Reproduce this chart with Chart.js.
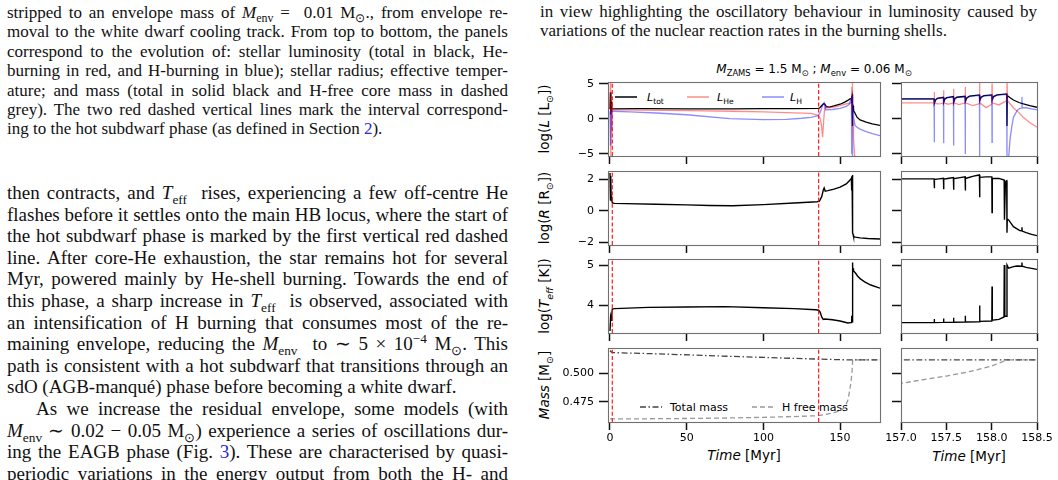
<!DOCTYPE html>
<html>
<head>
<meta charset="utf-8">
<script src="https://cdn.jsdelivr.net/npm/chart.js@4.4.1/dist/chart.umd.min.js"></script>
<style>
html, body { margin: 0; padding: 0; background: #fff; }
body { width: 1058px; height: 480px; position: relative; overflow: hidden; }
.col { position: absolute; font-family: "Liberation Serif", "Times New Roman", serif; color: #111; }
.cap { font-size: 17px; line-height: 19.4px; }
.txt { font-size: 19px; line-height: 21.6px; }
.ln { white-space: nowrap; text-align: justify; text-align-last: justify; }
.ln.last { text-align: left; text-align-last: left; }
.col sub, .col sup { font-size: 70%; line-height: 0; }
.lk { color: #2a2ad0; }
.fig { position: absolute; font-family: "DejaVu Sans", sans-serif; color: #000; white-space: nowrap; line-height: 1; }
.fig sub { font-size: 70%; line-height: 0; }
.ylab { font-size: 13.5px; transform: translate(-50%, -50%) rotate(-90deg); }
.xlab { font-size: 13.5px; transform: translate(-50%, -50%); }
.lg { font-size: 11px; transform: translateY(-50%); }
.lgs { position: absolute; }
canvas { position: absolute; }
</style>
</head>
<body>

<div class="col cap" style="left:7px; top:3px; width:501px;">
  <div class="ln">stripped to an envelope mass of <i>M</i><sub>env</sub> =&nbsp; 0.01 M<sub>⊙</sub>., from envelope re-</div>
  <div class="ln">moval to the white dwarf cooling track. From top to bottom, the panels</div>
  <div class="ln">correspond to the evolution of: stellar luminosity (total in black, He-</div>
  <div class="ln">burning in red, and H-burning in blue); stellar radius; effective temper-</div>
  <div class="ln">ature; and mass (total in solid black and H-free core mass in dashed</div>
  <div class="ln">grey). The two red dashed vertical lines mark the interval correspond-</div>
  <div class="ln last">ing to the hot subdwarf phase (as defined in Section <span class="lk">2</span>).</div>
</div>

<div class="col txt" style="left:7px; top:182px; width:501px;">
  <div class="ln">then contracts, and <i>T</i><sub>eff</sub>&nbsp; rises, experiencing a few off-centre He</div>
  <div class="ln">flashes before it settles onto the main HB locus, where the start of</div>
  <div class="ln">the hot subdwarf phase is marked by the first vertical red dashed</div>
  <div class="ln">line. After core-He exhaustion, the star remains hot for several</div>
  <div class="ln">Myr, powered mainly by He-shell burning. Towards the end of</div>
  <div class="ln">this phase, a sharp increase in <i>T</i><sub>eff</sub>&nbsp; is observed, associated with</div>
  <div class="ln">an intensification of H burning that consumes most of the re-</div>
  <div class="ln">maining envelope, reducing the <i>M</i><sub>env</sub>&nbsp; to ∼ 5 × 10<sup>−4</sup> M<sub>⊙</sub>. This</div>
  <div class="ln">path is consistent with a hot subdwarf that transitions through an</div>
  <div class="ln last">sdO (AGB-manqué) phase before becoming a white dwarf.</div>
  <div class="ln" style="text-indent:29px;">As we increase the residual envelope, some models (with</div>
  <div class="ln"><i>M</i><sub>env</sub> ∼ 0.02 − 0.05 M<sub>⊙</sub>) experience a series of oscillations dur-</div>
  <div class="ln">ing the EAGB phase (Fig. <span class="lk">3</span>). These are characterised by quasi-</div>
  <div class="ln">periodic variations in the energy output from both the H- and</div>
</div>

<div class="col cap" style="left:540px; top:2px; width:497px;">
  <div class="ln">in view highlighting the oscillatory behaviour in luminosity caused by</div>
  <div class="ln last">variations of the nuclear reaction rates in the burning shells.</div>
</div>

<div class="fig" style="left:814px; top:69px; font-size:12px; transform:translate(-50%,-50%);"><i>M</i><sub>ZAMS</sub> = 1.5 M<sub>⊙</sub> ; <i>M</i><sub>env</sub> = 0.06 M<sub>⊙</sub></div>

<div class="fig ylab" style="left:545px; top:119px;">log(<i>L</i> [L<sub>⊙</sub>])</div>
<div class="fig ylab" style="left:545px; top:208px;">log(<i>R</i> [R<sub>⊙</sub>])</div>
<div class="fig ylab" style="left:545px; top:296px;">log(<i>T</i><sub><i>eff</i></sub> [K])</div>
<div class="fig ylab" style="left:545px; top:385px;"><i>Mass</i> [M<sub>⊙</sub>]</div>
<div class="fig xlab" style="left:744px; top:456px;"><i>Time</i> [Myr]</div>
<div class="fig xlab" style="left:969px; top:457px;"><i>Time</i> [Myr]</div>

<svg class="lgs" style="left:615px; top:94px;" width="22" height="6"><line x1="0" y1="3" x2="22" y2="3" stroke="#000" stroke-width="1.5"/></svg>
<div class="fig lg" style="left:647px; top:97px;"><i>L</i><sub>tot</sub></div>
<svg class="lgs" style="left:687px; top:94px;" width="22" height="6"><line x1="0" y1="3" x2="22" y2="3" stroke="rgba(255,0,0,0.45)" stroke-width="1.5"/></svg>
<div class="fig lg" style="left:717px; top:97px;"><i>L</i><sub>He</sub></div>
<svg class="lgs" style="left:762px; top:94px;" width="22" height="6"><line x1="0" y1="3" x2="22" y2="3" stroke="rgba(0,0,255,0.45)" stroke-width="1.5"/></svg>
<div class="fig lg" style="left:790px; top:97px;"><i>L</i><sub>H</sub></div>

<svg class="lgs" style="left:640px; top:404px;" width="22" height="6"><line x1="0" y1="3" x2="22" y2="3" stroke="#444" stroke-width="1.4" stroke-dasharray="6 2.5 1.5 2.5"/></svg>
<div class="fig lg" style="left:670px; top:407px;">Total mass</div>
<svg class="lgs" style="left:752px; top:404px;" width="22" height="6"><line x1="0" y1="3" x2="22" y2="3" stroke="#999" stroke-width="1.4" stroke-dasharray="5 3"/></svg>
<div class="fig lg" style="left:782px; top:407px;">H free mass</div>

<script>
Chart.defaults.font.family = "DejaVu Sans";
Chart.defaults.font.size = 11;
Chart.defaults.color = "#000";

// Time axes (Myr)
const X_TICKS_MAIN = [0, 50, 100, 150];
const X_TICKS_ZOOM = [157.0, 157.5, 158.0, 158.5];
const HSD_PHASE = [1.5, 136];   // start / end of hot subdwarf phase

// log L_tot
const LTOT_T = [0, 0.3, 0.6, 0.9, 1.2, 1.5, 2, 20, 50, 80, 100, 120, 136, 136.8, 137.8, 138.8, 139.5, 140.2, 141, 143, 146, 150, 153, 155, 156.5,
  157, 157.365, 157.368, 157.38, 157.4, 157.468, 157.471, 157.483, 157.505, 157.578, 157.581, 157.593, 157.615, 157.707, 157.71, 157.725, 157.755,
  157.865, 157.868, 157.883, 157.915, 158.002, 158.005, 158.02, 158.06, 158.166, 158.169, 158.172, 158.2, 158.24, 158.3, 158.35, 158.42, 158.5,
  159, 160, 161, 163, 167, 171, 176];
const LTOT_V = [1.4, 3.8, 0.6, 2.5, 1.0, 1.45, 1.45, 1.46, 1.45, 1.45, 1.46, 1.47, 1.5, 1.6, 1.85, 2.1, 2.2, 2.05, 1.75, 1.7, 1.85, 2.1, 2.4, 2.65, 2.9,
  2.86, 2.86, 2.24, 2.7, 2.95, 3.1, 2.38, 2.85, 3.05, 3.19, 2.38, 2.88, 3.1, 3.24, 2.52, 3.0, 3.25,
  3.43, 2.62, 3.1, 3.33, 3.43, 2.71, 3.2, 3.45, 3.57, -1.0, 3.35, 3.05, 2.71, 2.35, 2.14, 1.9, 1.67,
  1.2, 0.7, 0.25, -0.15, -0.45, -0.7, -0.92];

// log L_He
const LHE_T = [0, 0.3, 0.45, 0.6, 0.9, 1.2, 1.5, 2, 20, 50, 80, 100, 120, 131, 135.5, 136.8, 137.8, 138.6, 139.2, 139.8, 140.4, 142, 146, 150, 153, 156,
  157, 157.365, 157.367, 157.369, 157.4, 157.44, 157.468, 157.47, 157.472, 157.52, 157.578, 157.58, 157.582, 157.64, 157.707, 157.709, 157.711, 157.79,
  157.865, 157.867, 157.869, 157.94, 158.002, 158.004, 158.006, 158.08, 158.166, 158.169, 158.175, 158.24, 158.3, 158.35, 158.42, 158.5,
  159, 159.6, 162, 176];
const LHE_V = [1.3, 5.6, -5.6, 4.0, -2.0, 2.0, 1.3, 1.29, 1.25, 1.19, 1.1, 1.0, 0.88, 0.8, 0.5, 0.2, -0.8, -2.6, -0.5, 1.2, 1.7, 1.6, 1.7, 1.9, 2.1, 2.25,
  2.29, 2.29, 3.86, 2.3, 2.15, 2.2, 2.3, 4.1, 2.3, 2.1, 2.3, 4.33, 2.3, 2.05, 2.3, 4.57, 2.3, 1.9,
  2.2, 5.6, 2.3, 1.62, 2.1, 5.05, 2.3, 2.0, 2.6, 6.0, 2.6, 1.6, 0.9, 0.2, -0.5, -1.2,
  -3.0, -5.5, -7, -9];

// log L_H
const LH_T = [0, 0.3, 0.6, 0.9, 1.2, 1.5, 2, 13, 30, 50, 78, 100, 115, 125, 131, 135.5, 137, 138, 139, 139.5, 140, 141, 145, 150, 154, 156,
  157, 157.365, 157.367, 157.369, 157.38, 157.4, 157.468, 157.47, 157.472, 157.483, 157.505, 157.578, 157.58, 157.582, 157.593, 157.615,
  157.707, 157.709, 157.711, 157.725, 157.755, 157.865, 157.867, 157.869, 157.883, 157.915, 158.002, 158.004, 158.006, 158.02, 158.06,
  158.166, 158.169, 158.187, 158.205, 158.224, 158.24, 158.28, 158.31, 158.332, 158.334, 158.336, 158.38, 158.44, 158.5,
  159, 159.7, 161, 163, 167, 171, 176];
const LH_V = [1.1, -3.7, 1.5, -1.5, 1.0, 1.15, 1.1, 1.0, 0.85, 0.6, 0.05, -0.1, -0.05, 0.1, 0.23, 0.45, 0.9, 1.6, 2.1, 2.3, 1.8, 1.3, 1.35, 1.5, 1.8, 2.1,
  2.84, 2.84, -3.34, 2.2, 2.65, 2.9, 3.05, -3.48, 2.3, 2.8, 3.0, 3.15, -3.8, 2.3, 2.82, 3.05,
  3.2, -5.0, 2.45, 2.95, 3.2, 3.38, -5.6, 2.5, 3.05, 3.28, 3.38, -3.34, 2.6, 3.15, 3.4,
  3.5, -6.5, -5.5, -2.6, -0.96, 0.23, 1.19, 1.5, 1.55, 3.15, 1.6, 1.6, 1.45, 1.29,
  0.3, -0.9, -1.2, -1.45, -1.8, -2.1, -2.4];

// log R
const R_T = [0, 0.3, 0.5, 0.8, 1.2, 1.5, 3, 10, 30, 50, 65, 80, 100, 120, 135, 136.5, 138, 139, 139.6, 140.3, 142, 146, 150, 154, 156,
  157, 157.365, 157.367, 157.37, 157.42, 157.468, 157.47, 157.473, 157.53, 157.578, 157.58, 157.583, 157.65, 157.707, 157.709, 157.712, 157.8,
  157.865, 157.867, 157.87, 157.94, 158.002, 158.004, 158.007, 158.08, 158.138, 158.141, 158.152, 158.166, 158.169, 158.172, 158.187,
  158.24, 158.31, 158.332, 158.334, 158.336, 158.38, 158.44, 158.5,
  159, 160, 163, 168, 176];
const R_V = [2.4, 0.7, 2.2, 0.65, 0.9, 0.5, 0.48, 0.46, 0.42, 0.38, 0.34, 0.33, 0.4, 0.5, 0.58, 0.62, 0.9, 1.3, 1.45, 1.25, 1.28, 1.38, 1.5, 1.7, 1.9,
  2.02, 2.02, 1.43, 1.98, 2.02, 2.06, 1.37, 2.0, 2.06, 2.1, 1.33, 2.03, 2.1, 2.15, 1.29, 2.05, 2.2,
  2.27, 0.86, 2.12, 2.15, 2.15, -0.1, 2.05, 2.05, 1.95, -0.55, 1.85, 1.9, -1.37, -0.5, -0.57,
  -0.99, -1.24, -1.25, -1.03, -1.27, -1.37, -1.48, -1.56,
  -1.62, -1.65, -1.7, -1.74, -1.77];

// log Teff
const TEFF_T = [0, 0.4, 0.8, 1.2, 1.5, 3, 25, 50, 75, 100, 120, 134, 136, 137, 138, 139, 140, 145, 150, 155,
  157, 157.365, 157.367, 157.369, 157.468, 157.47, 157.472, 157.578, 157.58, 157.582, 157.707, 157.709, 157.711,
  157.865, 157.867, 157.87, 158.002, 158.004, 158.007, 158.08, 158.136, 158.139, 158.145, 158.166, 158.169, 158.187,
  158.24, 158.28, 158.332, 158.334, 158.336, 158.38, 158.44, 158.5,
  159, 160, 161.5, 163, 166, 170, 176];
const TEFF_V = [3.35, 3.7, 3.62, 3.78, 3.9, 3.91, 3.94, 3.95, 3.96, 3.93, 3.91, 3.88, 3.87, 3.82, 3.7, 3.64, 3.65, 3.63, 3.6, 3.55,
  3.56, 3.56, 3.65, 3.56, 3.565, 3.66, 3.565, 3.57, 3.68, 3.57, 3.575, 3.73, 3.575,
  3.58, 3.99, 3.59, 3.6, 4.46, 3.62, 3.64, 3.7, 5.0, 3.72, 3.72, 5.0, 4.92,
  4.96, 4.975, 4.97, 5.06, 4.97, 4.94, 4.915, 4.89,
  4.85, 4.8, 4.72, 4.66, 4.58, 4.5, 4.42];

// masses (Msun)
const MTOT_T = [0, 0.4, 1, 2, 30, 60, 100, 136, 150, 158.2, 176];
const MTOT_V = [0.5190, 0.5196, 0.5186, 0.5182, 0.5172, 0.5158, 0.5140, 0.5125, 0.5120, 0.5118, 0.5118];
const MHF_T = [0, 20, 50, 80, 100, 120, 136, 140, 145, 150, 153, 155, 156, 157, 157.25, 157.5, 157.75, 158, 158.17, 176];
const MHF_V = [0.4598, 0.4599, 0.4602, 0.4607, 0.4612, 0.4619, 0.4627, 0.4637, 0.4650, 0.4668, 0.4700, 0.4760, 0.4830,
  0.4912, 0.4944, 0.4976, 0.5014, 0.5064, 0.5118, 0.5118];

const pts = (xs, ys) => xs.map((x, i) => ({ x, y: ys[i] }));
const line = (xs, ys, color, width, dash) => ({
  data: pts(xs, ys), borderColor: color, borderWidth: width, borderDash: dash || [],
  pointRadius: 0, fill: false, tension: 0,
});

const fmtSigned = v => (v < 0 ? "\u2212" + Math.abs(v) : String(v));

// first dataset is drawn on top
const ROWS = [
  { top: 82,  yMin: -5.3,   yMax: 5.28,   yTicks: [-5, 0, 5],    fmt: fmtSigned,
    sets: () => [line(LH_T, LH_V, "rgba(0,0,255,0.45)", 1.3), line(LHE_T, LHE_V, "rgba(255,0,0,0.45)", 1.3), line(LTOT_T, LTOT_V, "#000", 1.3)] },
  { top: 171, yMin: -2.15,  yMax: 2.52,   yTicks: [-2, 0, 2],    fmt: fmtSigned,
    sets: () => [line(R_T, R_V, "#000", 1.4)] },
  { top: 259, yMin: 3.3,    yMax: 5.15,   yTicks: [4, 5],        fmt: fmtSigned,
    sets: () => [line(TEFF_T, TEFF_V, "#000", 1.4)] },
  { top: 348, yMin: 0.4571, yMax: 0.5223, yTicks: [0.475, 0.5],  fmt: v => v.toFixed(3),
    sets: () => [line(MTOT_T, MTOT_V, "#444", 1.3, [6, 2.5, 1.5, 2.5]), line(MHF_T, MHF_V, "#999", 1.3, [5, 3])] },
];
const ROW_H = 74;

const COLS = [
  { left: 608, width: 272, xMin: -1.3, xMax: 176, ticks: X_TICKS_MAIN, fmt: v => String(v), axw: 54, pr: 6, main: true },
  { left: 901, width: 136, xMin: 157.0, xMax: 158.5, ticks: X_TICKS_ZOOM, fmt: v => v.toFixed(1), axw: 24, pr: 20, main: false },
];

const framePlugin = {
  id: "frame",
  afterDatasetsDraw(chart) {
    const { ctx, chartArea: a } = chart;
    ctx.save();
    ctx.strokeStyle = "#707070";
    ctx.lineWidth = 1.1;
    ctx.strokeRect(Math.round(a.left) + 0.5, Math.round(a.top) + 0.5, Math.round(a.right - a.left), Math.round(a.bottom - a.top));
    ctx.restore();
  },
};

function makePanel(row, col, last) {
  const pt = 4, bot = last ? 30 : 12;
  const W = col.axw + col.width + col.pr, H = pt + ROW_H + bot;
  const c = document.createElement("canvas");
  c.width = W; c.height = H;
  c.style.left = (col.left - col.axw) + "px";
  c.style.top = (row.top - pt) + "px";
  document.body.appendChild(c);

  const datasets = row.sets();
  if (col.main) {
    // hot subdwarf phase boundaries, spanning the full y range
    for (const t of HSD_PHASE) datasets.unshift(line([t, t], [row.yMin, row.yMax], "#ff1a1a", 1.2, [4, 2.2]));
  }

  new Chart(c, {
    type: "line",
    data: { datasets },
    options: {
      responsive: false, animation: false, events: [],
      layout: { padding: { left: 0, top: pt, right: col.pr, bottom: 0 } },
      plugins: { legend: { display: false }, tooltip: { enabled: false } },
      scales: {
        x: {
          type: "linear", min: col.xMin, max: col.xMax,
          afterBuildTicks: s => { s.ticks = col.ticks.map(v => ({ value: v })); },
          afterFit: s => { s.height = bot; s.paddingLeft = 0; s.paddingRight = 0; },
          grid: { drawOnChartArea: false, drawTicks: true, tickLength: 8, tickWidth: 1.5, tickColor: "#111" },
          border: { display: false },
          ticks: { display: last, padding: 2, autoSkip: false, maxRotation: 0, minRotation: 0,
                    font: { size: 11 }, color: "#000", callback: v => col.fmt(v) },
        },
        y: {
          type: "linear", min: row.yMin, max: row.yMax,
          afterBuildTicks: s => { s.ticks = row.yTicks.map(v => ({ value: v })); },
          afterFit: s => { s.width = col.axw; s.paddingTop = 0; s.paddingBottom = 0; },
          grid: { drawOnChartArea: false, drawTicks: true, tickLength: 9, tickWidth: 1.5, tickColor: "#111" },
          border: { display: false },
          ticks: { display: col.main, padding: 5, font: { size: 11 }, color: "#000", callback: v => row.fmt(v) },
        },
      },
    },
    plugins: [framePlugin],
  });
}

ROWS.forEach((row, i) => COLS.forEach(col => makePanel(row, col, i === ROWS.length - 1)));
</script>
</body>
</html>
